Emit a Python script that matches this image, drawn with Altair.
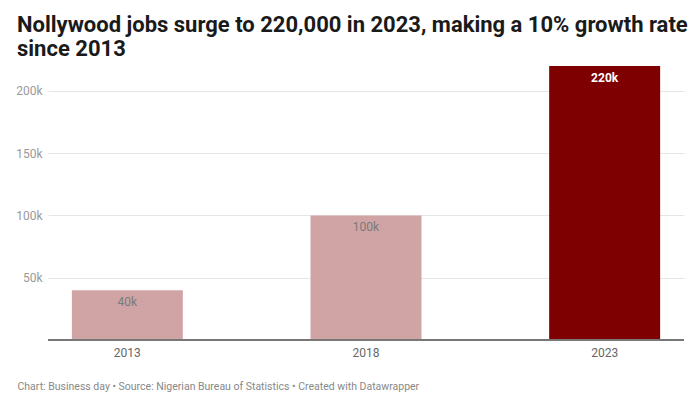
import altair as alt
import pandas as pd

# Daten
years = ["2013", "2018", "2023"]
jobs = [40000, 100000, 220000]
labels = ["40k", "100k", "220k"]
bar_colors = ["#d0a4a4", "#d0a4a4", "#7f0000"]

title_lines = [
    "Nollywood jobs surge to 220,000 in 2023, making a 10% growth rate",
    "since 2013",
]
footer = "Chart: Business day • Source: Nigerian Bureau of Statistics • Created with Datawrapper"

df = pd.DataFrame({"year": years, "jobs": jobs, "label": labels})

x_enc = alt.X(
    "year:N",
    sort=years,
    scale=alt.Scale(paddingInner=0.535, paddingOuter=0.1),
    axis=alt.Axis(
        title=footer,
        titleAnchor="start",
        titleAlign="left",
        titleX=-31,
        titleY=49,
        titleBaseline="alphabetic",
        titleFontSize=10.5,
        titleFontWeight="normal",
        titleColor="#888888",
        labelAngle=0,
        labelColor="#666666",
        labelFontSize=12,
        labelPadding=7,
        domain=False,
        ticks=False,
    ),
)

y_enc = alt.Y(
    "jobs:Q",
    scale=alt.Scale(domain=[0, 220000], nice=False),
    axis=alt.Axis(
        title=None,
        values=[50000, 100000, 150000, 200000],
        format="~s",
        labelColor="#999999",
        labelFontSize=12,
        labelPadding=6,
        domain=False,
        ticks=False,
        gridColor="#e6e6e6",
    ),
)

bars = alt.Chart(df).mark_bar().encode(
    x=x_enc,
    y=y_enc,
    color=alt.Color("year:N", scale=alt.Scale(domain=years, range=bar_colors), legend=None),
)

# Beschriftung in den Balken
light_text = alt.Chart(df).transform_filter(alt.datum.year != "2023").mark_text(
    baseline="middle", dy=12, fontSize=12, color="#7a7a7a", font="Roboto"
).encode(x=alt.X("year:N", sort=years), y="jobs:Q", text="label:N")

dark_text = alt.Chart(df).transform_filter(alt.datum.year == "2023").mark_text(
    baseline="middle", dy=12, fontSize=12, fontWeight="bold", color="white", font="Roboto"
).encode(x=alt.X("year:N", sort=years), y="jobs:Q", text="label:N")

baseline = alt.Chart(df).mark_rule(color="#777777", strokeWidth=2).encode(y=alt.datum(0))

chart = alt.layer(bars, light_text, dark_text, baseline).properties(
    width=636,
    height=274,
    autosize=alt.AutoSizeParams(type="none"),
    padding={"left": 40, "right": 8, "top": 58, "bottom": 52},
    title=alt.TitleParams(
        text=title_lines,
        anchor="start",
        frame="group",
        dx=-31,
        offset=5,
        fontSize=22,
        fontWeight="bold",
        lineHeight=24,
        color="#1a1a1a",
        font="Roboto",
    ),
).configure_view(stroke=None).configure_axis(labelFont="Roboto", titleFont="Roboto")

chart.save("out.html", embed_options={"renderer": "svg", "actions": False})
